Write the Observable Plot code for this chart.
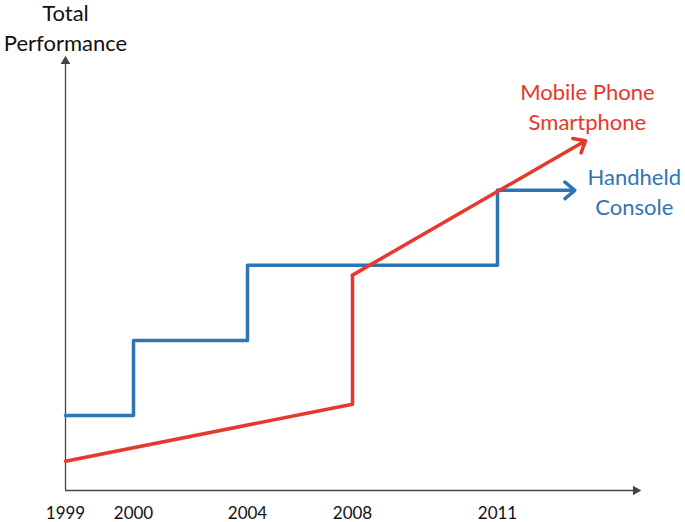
<!DOCTYPE html>
<html>
<head>
<meta charset="utf-8">
<script src="https://cdn.jsdelivr.net/npm/d3@7"></script>
<script src="https://cdn.jsdelivr.net/npm/@observablehq/plot@0.6"></script>
<style>
  html, body { margin: 0; padding: 0; background: #fff; }
  #chart svg { display: block; }
</style>
</head>
<body>
<div id="chart"></div>
<script>
// Tick labels on the time axis (schematic, unevenly spaced)
const tickYears = [1999, 2000, 2004, 2008, 2011];
// Handheld console: performance steps
const handheldYears = [1999, 2000, 2004, 2011];
const handheldPerf = [1, 2, 3, 4];
const handheldArrowEnd = { year: 2012.6, perf: 4 };
// Mobile phone / smartphone
const mobileYears = [1999, 2008, 2008];
const mobilePerf = [0.39, 1.15, 2.87];
const mobileArrowEnd = { year: 2012.82, perf: 4.66 };
// Axis extents
const axisStart = { year: 1999, perf: 0 };
const axisEnd = { year: 2013.86, perf: 5.72 };
// Labels
const seriesLabels = [
  { text: "Mobile Phone\nSmartphone", year: 2012.86, perf: 5.13, series: "mobile" },
  { text: "Handheld\nConsole", year: 2013.83, perf: 4.0, series: "handheld" }
];
const yTitle = { text: "Total\nPerformance", year: 1999, perf: 6.18 };

const RED = "#e8372b";
const BLUE = "#2e75b6";
const AXIS = "#444";
const FONT = "Lato, 'Open Sans', sans-serif";

const handheld = handheldYears.map((y, i) => ({ year: y, perf: handheldPerf[i] }));
const mobile = mobileYears.map((y, i) => ({ year: y, perf: mobilePerf[i] }));
const lastH = handheld[handheld.length - 1];
const lastM = mobile[mobile.length - 1];

const chart = Plot.plot({
  width: 685,
  height: 522,
  marginTop: 57,
  marginBottom: 32,
  marginLeft: 65,
  marginRight: 43,
  style: { fontFamily: FONT, background: "#fff" },
  x: { type: "linear", domain: [1999, 2000, 2004, 2008, 2011, 2014], range: [65, 133, 247, 352, 497, 642], axis: null },
  y: { domain: [0, 5.77], axis: null },
  marks: [
    // axes
    Plot.ruleY([axisStart], { y: "perf", x1: axisStart.year, x2: axisEnd.year, stroke: AXIS, strokeWidth: 1.3 }),
    Plot.ruleX([axisStart], { x: "year", y1: axisStart.perf, y2: axisEnd.perf, stroke: AXIS, strokeWidth: 1.3 }),
    Plot.dot([axisEnd], { x: "year", y: axisStart.perf, symbol: "triangle", r: 3.6, fill: AXIS, stroke: null, rotate: 90 }),
    Plot.dot([axisEnd], { x: axisStart.year, y: "perf", symbol: "triangle", r: 3.6, fill: AXIS, stroke: null, rotate: 0 }),
    Plot.axisX({ ticks: tickYears, tickSize: 0, tickPadding: 16, tickFormat: d => String(d), fontSize: 17, fill: "#111" }),
    // handheld
    Plot.line(handheld, { x: "year", y: "perf", curve: "step-after", stroke: BLUE, strokeWidth: 3.5 }),
    Plot.arrow([{ x1: lastH.year, y1: lastH.perf, x2: handheldArrowEnd.year, y2: handheldArrowEnd.perf }],
      { x1: "x1", y1: "y1", x2: "x2", y2: "y2", stroke: BLUE, strokeWidth: 3.5, headLength: 5.5, headAngle: 80 }),
    // mobile
    Plot.line(mobile, { x: "year", y: "perf", stroke: RED, strokeWidth: 3.5 }),
    Plot.arrow([{ x1: lastM.year, y1: lastM.perf, x2: mobileArrowEnd.year, y2: mobileArrowEnd.perf }],
      { x1: "x1", y1: "y1", x2: "x2", y2: "y2", stroke: RED, strokeWidth: 3.5, headLength: 5.5, headAngle: 80 }),
    // labels
    Plot.text(seriesLabels, { x: "year", y: "perf", text: "text", fill: d => d.series === "mobile" ? RED : BLUE, fontSize: 22, lineHeight: 1.36, textAnchor: "middle" }),
    Plot.text([yTitle], { x: "year", y: "perf", text: "text", fill: "#111", fontSize: 22, lineHeight: 1.36, textAnchor: "middle" })
  ]
});
document.getElementById("chart").appendChild(chart);
</script>
</body>
</html>
